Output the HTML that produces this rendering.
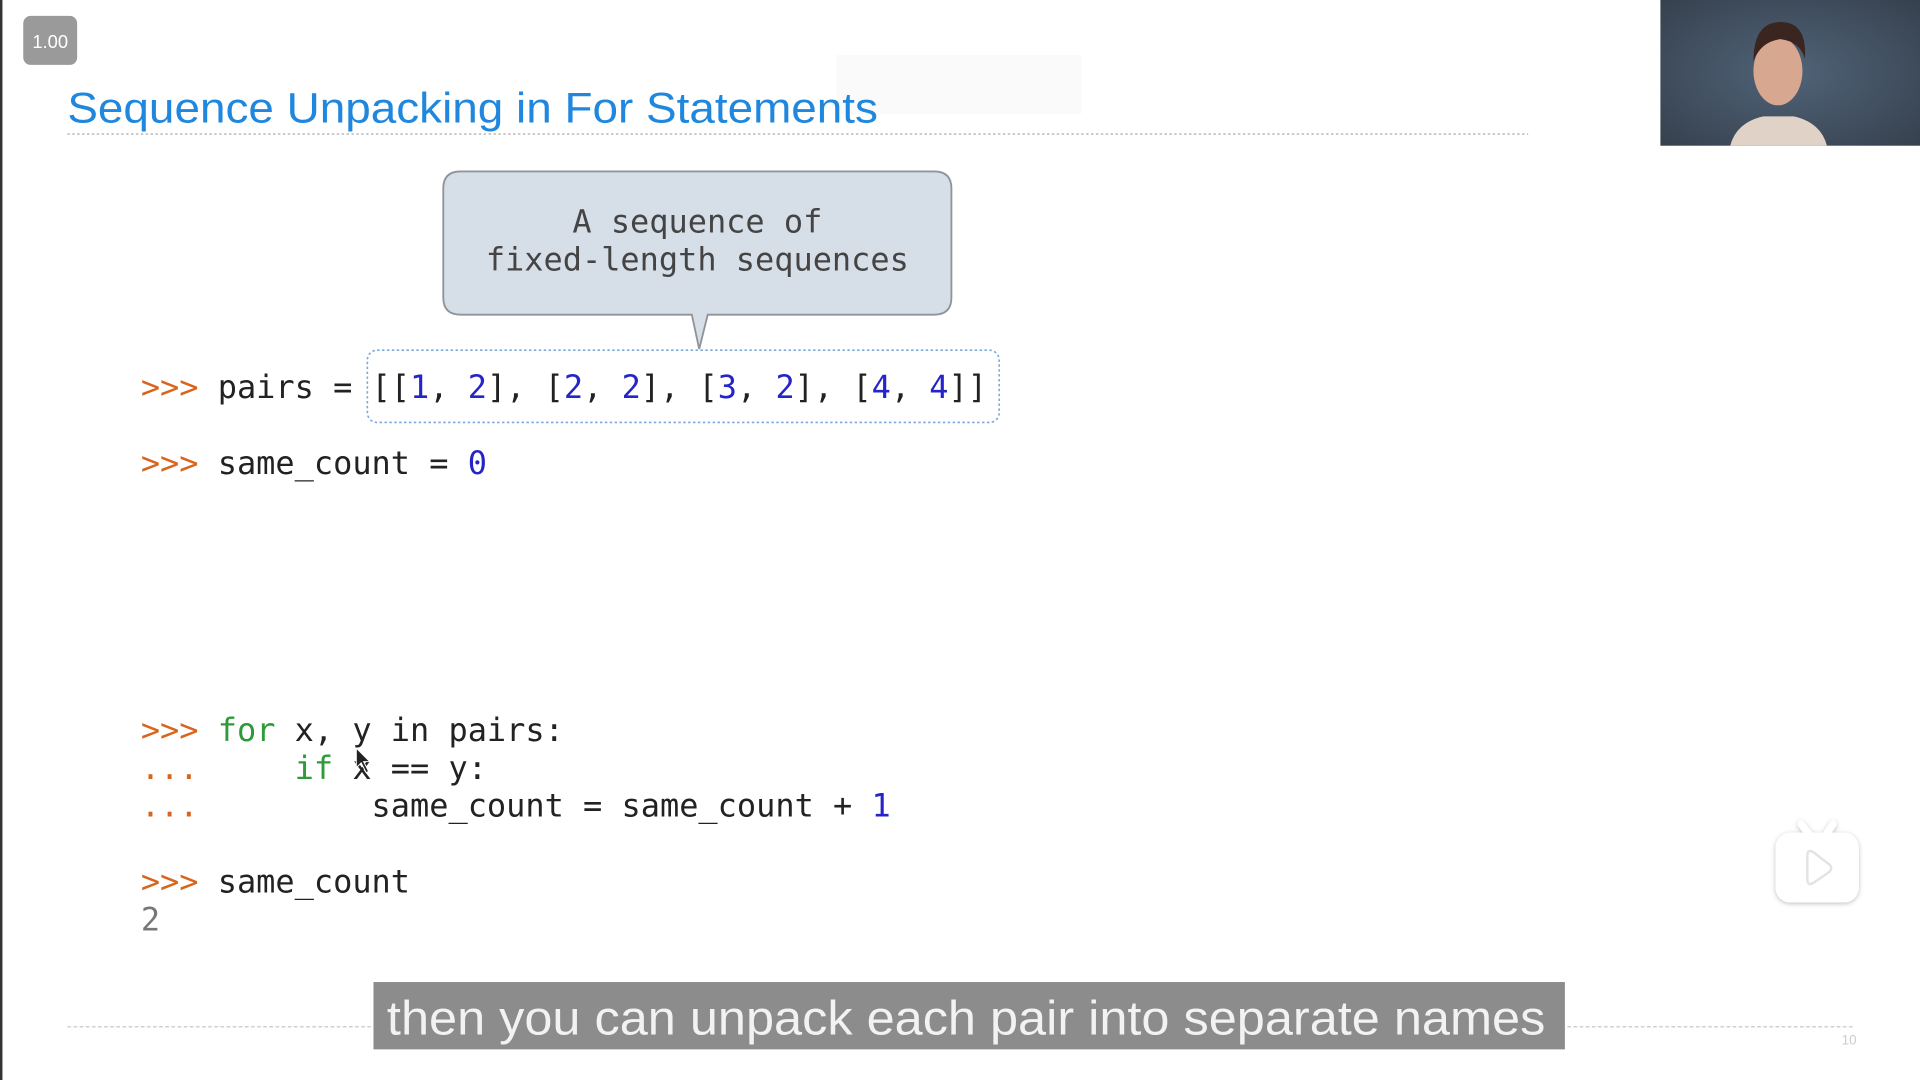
<!DOCTYPE html>
<html><head><meta charset="utf-8"><style>
html,body{margin:0;padding:0;background:#fff;overflow:hidden}
svg{display:block}
.m{font-family:"DejaVu Sans Mono","Liberation Mono",monospace;font-size:26.1px;fill:#222}
.p{fill:#d9641c}.k{fill:#2e9a3a}.n{fill:#2424c8}
</style></head><body>
<svg width="1920" height="1080" viewBox="0 0 1568 882" xmlns="http://www.w3.org/2000/svg">
<defs>
<radialGradient id="bg" cx="0.5" cy="0.5" r="0.8"><stop offset="0" stop-color="#506378"/><stop offset="1" stop-color="#333c48"/></radialGradient>
<filter id="sh" x="-20%" y="-20%" width="140%" height="140%"><feDropShadow dx="0" dy="1" stdDeviation="2" flood-color="#000" flood-opacity="0.25"/></filter>
</defs>
<rect width="1568" height="882" fill="#fff"/>
<rect x="0" y="0" width="2" height="882" fill="#333"/>
<rect x="19" y="13" width="44" height="40" rx="6" fill="#9a9a9a"/>
<text x="41" y="39" text-anchor="middle" font-family="Liberation Sans,sans-serif" font-size="15" fill="#fff">1.00</text>
<rect x="683" y="45" width="200" height="48" fill="#fafafa"/>
<text x="55" y="100" font-family="Liberation Sans,Arial,sans-serif" font-size="35" fill="#1f87de" textLength="662" lengthAdjust="spacingAndGlyphs">Sequence Unpacking in For Statements</text>
<line x1="55" y1="109.5" x2="1248" y2="109.5" stroke="#c8c8c8" stroke-width="1.5" stroke-dasharray="2 2"/>
<rect x="1356" y="0" width="212" height="119" fill="url(#bg)"/>
<path d="M1413 119 Q1418 100 1440 95 L1465 95 Q1487 100 1492 119 Z" fill="#e0d2c6"/>
<ellipse cx="1452" cy="58" rx="20" ry="28" fill="#d8a790"/>
<path d="M1432 50 Q1432 18 1454 18 Q1476 18 1474 48 Q1470 34 1454 32 Q1438 34 1432 50Z" fill="#3a2520"/>
<path d="M376 140 H763 Q777 140 777 154 V243 Q777 257 763 257 H578 L571 285 L565 257 H376 Q362 257 362 243 V154 Q362 140 376 140 Z" fill="#d6dee8" stroke="#8f9499" stroke-width="1.5"/>
<text class="m" x="569.5" y="190" text-anchor="middle" style="fill:#444">A sequence of</text>
<text class="m" x="569.5" y="221" text-anchor="middle" style="fill:#444">fixed-length sequences</text>
<rect x="300" y="286" width="516" height="59" rx="8" fill="none" stroke="#7aa8dc" stroke-width="1.3" stroke-dasharray="2 2"/>
<g class="m">
<text x="115" y="325"><tspan class="p">&gt;&gt;&gt;</tspan> pairs = [[<tspan class="n">1</tspan>, <tspan class="n">2</tspan>], [<tspan class="n">2</tspan>, <tspan class="n">2</tspan>], [<tspan class="n">3</tspan>, <tspan class="n">2</tspan>], [<tspan class="n">4</tspan>, <tspan class="n">4</tspan>]]</text>
<text x="115" y="387"><tspan class="p">&gt;&gt;&gt;</tspan> same_count = <tspan class="n">0</tspan></text>
<text x="115" y="605"><tspan class="p">&gt;&gt;&gt;</tspan> <tspan class="k">for</tspan> x, y in pairs:</text>
<text x="115" y="636" xml:space="preserve"><tspan class="p">...</tspan>     <tspan class="k">if</tspan> x == y:</text>
<text x="115" y="667" xml:space="preserve"><tspan class="p">...</tspan>         same_count = same_count + <tspan class="n">1</tspan></text>
<text x="115" y="729"><tspan class="p">&gt;&gt;&gt;</tspan> same_count</text>
<text x="115" y="760" style="fill:#777">2</text>
</g>
<path d="M291 611 L291 627 L295 623 L299 631 L301 630 L297 622 L302 622 Z" fill="#222" stroke="#fff" stroke-width="0.8"/>
<line x1="55" y1="838.5" x2="1515" y2="838.5" stroke="#d0d0d0" stroke-width="1.2" stroke-dasharray="3 2"/>
<text x="1504" y="853" font-family="Liberation Sans,sans-serif" font-size="11" fill="#ccc">10</text>
<rect x="305" y="802" width="973" height="55" fill="#8c8c8c"/>
<text x="316" y="845" font-family="Liberation Sans,sans-serif" font-size="39" fill="#f2f2f2" textLength="946" lengthAdjust="spacingAndGlyphs">then you can unpack each pair into separate names</text>
<g filter="url(#sh)">
<path d="M1478 682 L1471 673 M1491 682 L1497 673" stroke="#fff" stroke-width="6" stroke-linecap="round"/>
<rect x="1450" y="680" width="68" height="57" rx="12" fill="#fff"/>
</g>
<path d="M1476 699 Q1476 693 1481 696 L1494 706 Q1497 709 1494 712 L1481 721 Q1476 724 1476 718 Z" fill="none" stroke="#e3e3e3" stroke-width="2"/>
</svg>
</body></html>
